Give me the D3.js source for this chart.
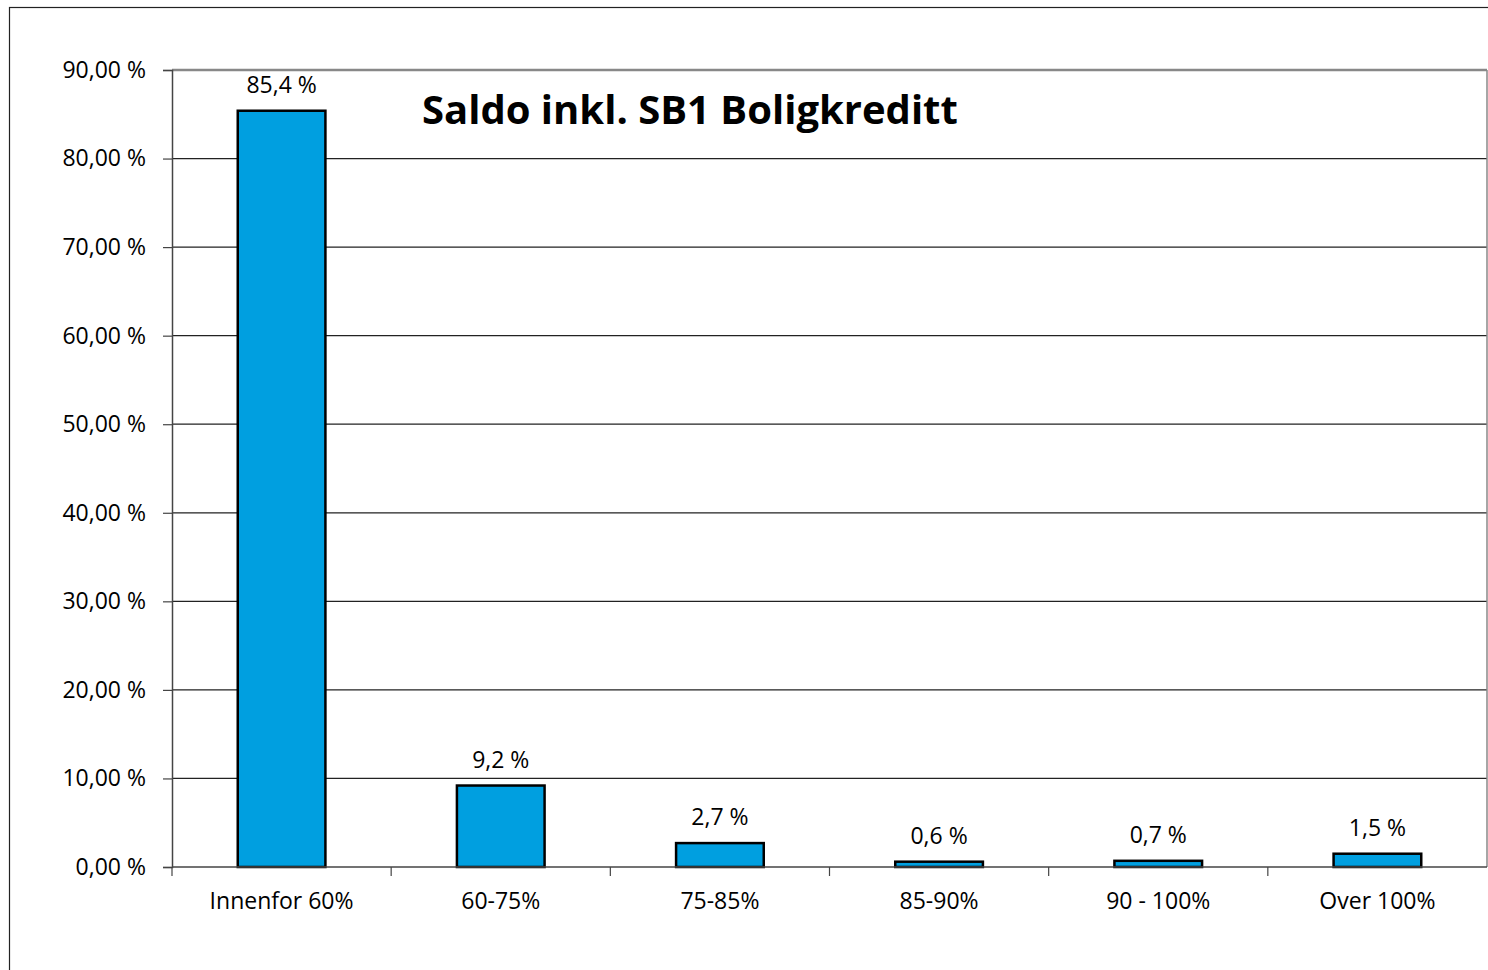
<!DOCTYPE html>
<html>
<head>
<meta charset="utf-8">
<script src="https://d3js.org/d3.v7.min.js"></script>
<style>
  body { margin: 0; background: #fff; }
  text { font-family: "Open Sans", sans-serif; fill: #000; }
</style>
</head>
<body>
<script>
// chart data
var categories = ["Innenfor 60%", "60-75%", "75-85%", "85-90%", "90 - 100%", "Over 100%"];
var values = [85.4, 9.2, 2.7, 0.6, 0.7, 1.5];
var yTicks = [0, 10, 20, 30, 40, 50, 60, 70, 80, 90];
var title = "Saldo inkl. SB1 Boligkreditt";

var W = 1488, H = 970;
var mLeft = 172, mRight = 1487, mTop = 70, mBottom = 867;

var svg = d3.select("body").append("svg")
    .attr("width", W)
    .attr("height", H);

// outer frame
svg.append("rect")
    .attr("x", 9.5).attr("y", 7.5)
    .attr("width", W).attr("height", H)
    .style("fill", "#fff")
    .style("stroke", "#222")
    .style("stroke-width", 1.2);

var x = d3.scaleBand().domain(categories).range([mLeft, mRight]);
var y = d3.scaleLinear().domain([0, 90]).range([mBottom, mTop]);

function fmtTick(v) { return v.toFixed(2).replace(".", ",") + " %"; }
function fmtVal(v) { return v.toFixed(1).replace(".", ",") + " %"; }

// gridlines
svg.append("g").selectAll("line")
    .data(yTicks.filter(function (d) { return d > 0 && d < 90; }))
    .enter().append("line")
    .attr("x1", mLeft).attr("x2", mRight)
    .attr("y1", function (d) { return y(d); })
    .attr("y2", function (d) { return y(d); })
    .style("stroke", "#222").style("stroke-width", 1.2);

// plot area top and right border
svg.append("line")
    .attr("x1", mLeft).attr("x2", mRight)
    .attr("y1", y(90)).attr("y2", y(90))
    .style("stroke", "#888").style("stroke-width", 2.5);
svg.append("line")
    .attr("x1", mRight).attr("x2", mRight)
    .attr("y1", y(90)).attr("y2", mBottom)
    .style("stroke", "#888").style("stroke-width", 1.5);

// y axis
var yAxis = d3.axisLeft(y).tickValues(yTicks).tickFormat(fmtTick)
    .tickSize(9).tickPadding(17);
var gy = svg.append("g").attr("transform", "translate(" + mLeft + ",0)").call(yAxis);
gy.select(".domain").style("stroke", "#444").style("stroke-width", 1.5);
gy.selectAll(".tick line").style("stroke", "#444").style("stroke-width", 1.2);
gy.selectAll("text").style("font-size", "23px").style("font-family", "Open Sans, sans-serif");

// bars
var bw = x.bandwidth() * 0.4;
svg.append("g").selectAll("rect")
    .data(values)
    .enter().append("rect")
    .attr("x", function (d, i) { return x(categories[i]) + x.bandwidth() / 2 - bw / 2; })
    .attr("y", function (d) { return y(d); })
    .attr("width", bw)
    .attr("height", function (d) { return mBottom - y(d); })
    .style("fill", "#009fe0")
    .style("stroke", "#000")
    .style("stroke-width", 2.5);

// value labels
svg.append("g").selectAll("text")
    .data(values)
    .enter().append("text")
    .attr("x", function (d, i) { return x(categories[i]) + x.bandwidth() / 2; })
    .attr("y", function (d) { return y(d) - 18; })
    .attr("text-anchor", "middle")
    .style("font-size", "23px")
    .text(fmtVal);

// x axis
svg.append("line")
    .attr("x1", mLeft).attr("x2", mRight)
    .attr("y1", mBottom).attr("y2", mBottom)
    .style("stroke", "#444").style("stroke-width", 1.5);
var bounds = categories.map(function (c) { return x(c); });
svg.append("g").selectAll("line")
    .data(bounds)
    .enter().append("line")
    .attr("x1", function (d) { return d; }).attr("x2", function (d) { return d; })
    .attr("y1", mBottom).attr("y2", mBottom + 9)
    .style("stroke", "#444").style("stroke-width", 1.2);
svg.append("g").selectAll("text")
    .data(categories)
    .enter().append("text")
    .attr("x", function (d) { return x(d) + x.bandwidth() / 2; })
    .attr("y", mBottom + 42)
    .attr("text-anchor", "middle")
    .style("font-size", "23px")
    .text(function (d) { return d; });

// title
svg.append("text")
    .attr("x", 422)
    .attr("y", 124)
    .style("font-size", "40px")
    .style("font-weight", "bold")
    .text(title);
</script>
</body>
</html>
